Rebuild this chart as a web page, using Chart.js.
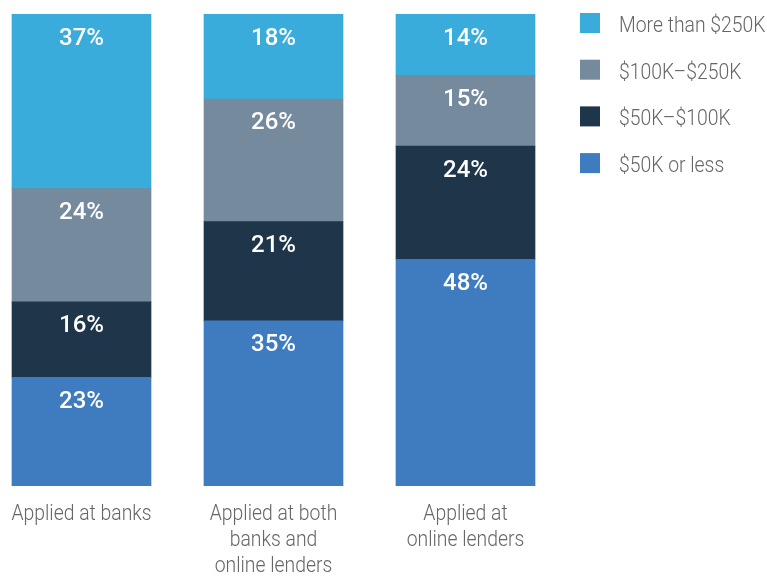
<!DOCTYPE html>
<html>
<head>
<meta charset="utf-8">
<script src="https://cdn.jsdelivr.net/npm/chart.js@4.4.1/dist/chart.umd.min.js"></script>
<style>
  html, body { margin: 0; padding: 0; background: #fff; }
  #wrap { width: 767px; height: 576px; }
</style>
</head>
<body>
<div id="wrap"><canvas id="myCanvas" width="767" height="576"></canvas></div>
<script>
'use strict';

// categories (multi-line x labels)
var categories = [
    ['Applied at banks'],
    ['Applied at both', 'banks and', 'online lenders'],
    ['Applied at', 'online lenders']
];

// series values, percent of applicants
var under50k   = [23, 35, 48];
var k50to100   = [16, 21, 24];
var k100to250  = [24, 26, 15];
var over250k   = [37, 18, 14];

var seriesNames = ['$50K or less', '$50K\u2013$100K', '$100K\u2013$250K', 'More than $250K'];
var seriesColors = ['#3e7bbf', '#1f364a', '#768a9e', '#39acdb'];

var FONT = 'Roboto, "Noto Sans", sans-serif';
var SQUEEZE = 0.88; // fake a condensed face

function condensedText(ctx, text, x, y, align) {
    var w = ctx.measureText(text).width * SQUEEZE;
    var left = align === 'center' ? x - w / 2 : x;
    ctx.save();
    ctx.translate(left, y);
    ctx.scale(SQUEEZE, 1);
    ctx.textAlign = 'left';
    ctx.fillText(text, 0, 0);
    ctx.restore();
}

// white % labels near the top of each segment
var segmentLabels = {
    id: 'segmentLabels',
    afterDatasetsDraw: function(chart) {
        var ctx = chart.ctx;
        var area = chart.chartArea;
        ctx.save();
        ctx.fillStyle = '#ffffff';
        ctx.font = '500 24px ' + FONT;
        ctx.textAlign = 'center';
        ctx.textBaseline = 'middle';
        chart.data.datasets.forEach(function(ds, i) {
            var meta = chart.getDatasetMeta(i);
            meta.data.forEach(function(bar, j) {
                var top = Math.max(Math.min(bar.y, bar.base), area.top);
                ctx.fillText(ds.data[j] + '%', bar.x, top + 24.5);
            });
        });
        ctx.restore();
    }
};

// category labels under the bars, placed from the x scale
var categoryLabels = {
    id: 'categoryLabels',
    afterDraw: function(chart) {
        var ctx = chart.ctx;
        var xs = chart.scales.x;
        var bottom = chart.chartArea.bottom;
        ctx.save();
        ctx.font = '300 22px ' + FONT;
        ctx.fillStyle = '#666666';
        ctx.textBaseline = 'alphabetic';
        chart.data.labels.forEach(function(lines, i) {
            var x = xs.getPixelForValue(i);
            lines.forEach(function(line, k) {
                condensedText(ctx, line, x, bottom + 34 + k * 26, 'center');
            });
        });
        ctx.restore();
    }
};

// legend on the right, top segment first
var sideLegend = {
    id: 'sideLegend',
    afterDraw: function(chart) {
        var ctx = chart.ctx;
        ctx.save();
        ctx.font = '300 22px ' + FONT;
        ctx.textBaseline = 'alphabetic';
        var n = chart.data.datasets.length;
        for (var k = 0; k < n; k++) {
            var ds = chart.data.datasets[n - 1 - k];
            var cy = 23 + k * 46.7;
            ctx.fillStyle = ds.backgroundColor;
            ctx.fillRect(580, cy - 10, 20, 20);
            ctx.fillStyle = '#666666';
            condensedText(ctx, ds.label, 619, cy + 9, 'left');
        }
        ctx.restore();
    }
};

var allSeries = [under50k, k50to100, k100to250, over250k];
var datasets = allSeries.map(function(vals, i) {
    return {
        label: seriesNames[i],
        data: vals,
        backgroundColor: seriesColors[i],
        borderWidth: 0,
        barThickness: 139,
        clip: { left: 80, right: 80, top: 0, bottom: 0 }
    };
});

var ctx = document.getElementById('myCanvas').getContext('2d');
var myChart = new Chart(ctx, {
    type: 'bar',
    data: { labels: categories, datasets: datasets },
    options: {
        responsive: false,
        animation: false,
        layout: { padding: { top: 14, left: 81.5, right: 301.5, bottom: 90 } },
        plugins: {
            legend: { display: false },
            tooltip: { enabled: false }
        },
        scales: {
            x: {
                stacked: true,
                offset: false,
                display: false
            },
            y: {
                stacked: true,
                display: false,
                min: 0,
                max: 100
            }
        }
    },
    plugins: [segmentLabels, categoryLabels, sideLegend]
});
</script>
</body>
</html>
